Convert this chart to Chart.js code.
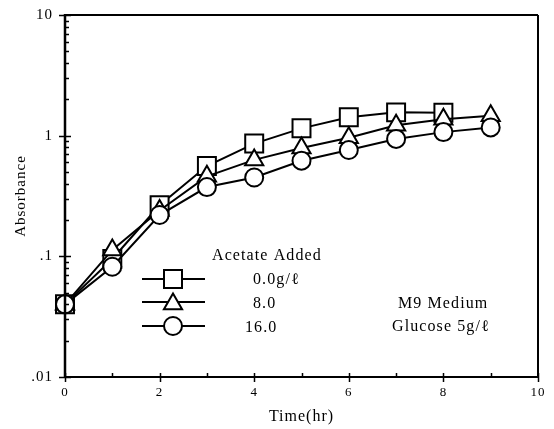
<!DOCTYPE html>
<html>
<head>
<meta charset="utf-8">
<script src="https://cdn.jsdelivr.net/npm/chart.js@4.4.1/dist/chart.umd.min.js"></script>
<style>
html,body{margin:0;padding:0;background:#fff;}
#wrap{width:554px;height:429px;}
</style>
</head>
<body>
<div id="wrap"><canvas id="c" width="554" height="429"></canvas></div>
<script>
// ---- data ----
const timeSq   = [0, 1, 2, 3, 4, 5, 6, 7, 8];
const absSq    = [0.04, 0.095, 0.265, 0.56, 0.86, 1.15, 1.42, 1.56, 1.55];
const timeTri  = [0, 1, 2, 3, 4, 5, 6, 7, 8, 9];
const absTri   = [0.04, 0.113, 0.24, 0.46, 0.63, 0.79, 0.96, 1.22, 1.37, 1.46];
const timeCirc = [0, 1, 2, 3, 4, 5, 6, 7, 8, 9];
const absCirc  = [0.04, 0.082, 0.22, 0.375, 0.45, 0.62, 0.76, 0.94, 1.07, 1.17];
const seriesLabels = ['0.0g/\u2113', '8.0', '16.0'];
const legendTitle = 'Acetate Added';
const noteLines = ['M9 Medium', 'Glucose 5g/\u2113'];
const yTickValues = [0.01, 0.1, 1, 10];
const yTickLabels = ['.01', '.1', '1', '10'];
const xTickValues = [0,1,2,3,4,5,6,7,8,9,10];

const SERIF = '"Liberation Serif", "Times New Roman", serif';

function pts(xs, ys){ return xs.map((x,i)=>({x:x, y:ys[i]})); }

function drawMarker(ctx, shape, x, y){
  ctx.save();
  ctx.fillStyle = '#fff';
  ctx.strokeStyle = '#000';
  ctx.lineWidth = 2;
  ctx.beginPath();
  if (shape === 'rect') {
    const s = 9;
    ctx.rect(x - s, y - s, 2*s, 2*s);
  } else if (shape === 'triangle') {
    const r = 10.5;
    for (let k=0;k<3;k++){
      const a = k*2*Math.PI/3;
      const px = x + Math.sin(a)*r, py = y - Math.cos(a)*r;
      if (k===0) ctx.moveTo(px,py); else ctx.lineTo(px,py);
    }
    ctx.closePath();
  } else {
    ctx.arc(x, y, 9, 0, Math.PI*2);
  }
  ctx.fill();
  ctx.stroke();
  ctx.restore();
}

const framePlugin = {
  id: 'frame',
  afterDraw(chart){
    const ctx = chart.ctx;
    const a = chart.chartArea;
    const xs = chart.scales.x, ys = chart.scales.y;
    ctx.save();
    ctx.strokeStyle = '#000';
    ctx.lineCap = 'butt';
    // frame
    ctx.lineWidth = 2.5;
    ctx.beginPath();
    ctx.moveTo(a.left, a.top - 1); ctx.lineTo(a.left, a.bottom + 1);
    ctx.stroke();
    ctx.lineWidth = 2;
    ctx.beginPath();
    ctx.moveTo(a.left, a.top); ctx.lineTo(a.right, a.top);
    ctx.moveTo(a.left, a.bottom); ctx.lineTo(a.right, a.bottom);
    ctx.moveTo(a.right, a.top); ctx.lineTo(a.right, a.bottom);
    ctx.stroke();
    // y ticks (log)
    ctx.lineWidth = 1.5;
    ctx.beginPath();
    for (let d = 0.01; d < 10.001; d *= 10) {
      for (let m = 1; m <= 9; m++) {
        const v = d * m;
        if (v > 10.0001) break;
        const py = Math.round(ys.getPixelForValue(v)) + 0.5;
        if (m === 1) { ctx.moveTo(a.left - 6, py); ctx.lineTo(a.left + 6, py); }
        else { ctx.moveTo(a.left, py); ctx.lineTo(a.left + 4, py); }
      }
    }
    // x ticks
    xTickValues.forEach(v => {
      const px = Math.round(xs.getPixelForValue(v)) + 0.5;
      if (v % 2 === 0) { ctx.moveTo(px, a.bottom + 5); ctx.lineTo(px, a.bottom - 4); }
      else { ctx.moveTo(px, a.bottom); ctx.lineTo(px, a.bottom - 4); }
    });
    ctx.stroke();

    // legend
    ctx.lineWidth = 2;
    const rows = [279, 302, 326];
    const shapes = ['rect', 'triangle', 'circle'];
    rows.forEach((ry, i) => {
      ctx.beginPath();
      ctx.moveTo(142, ry); ctx.lineTo(205, ry);
      ctx.stroke();
      drawMarker(ctx, shapes[i], 173, ry + (shapes[i]==='triangle'?2:0));
    });
    ctx.fillStyle = '#000';
    ctx.font = '16px ' + SERIF;
    ctx.letterSpacing = '1.1px';
    ctx.textBaseline = 'middle';
    ctx.textAlign = 'left';
    ctx.fillText(legendTitle, 212, 256);
    ctx.fillText(seriesLabels[0], 253, 280);
    ctx.fillText(seriesLabels[1], 253, 304);
    ctx.fillText(seriesLabels[2], 245, 328);
    ctx.fillText(noteLines[0], 398, 304);
    ctx.fillText(noteLines[1], 392, 327);
    ctx.restore();
  }
};

const lsPlugin = {
  id: 'ls',
  beforeDraw(chart){ chart.ctx.letterSpacing = '1px'; }
};

function ds(label, data, shape, radius, order){
  return {
    label: label,
    data: data,
    borderColor: '#000',
    borderWidth: 2,
    backgroundColor: '#fff',
    pointStyle: shape,
    pointRadius: radius,
    pointBorderWidth: 2,
    pointBackgroundColor: '#fff',
    pointBorderColor: '#000',
    tension: 0,
    fill: false,
    clip: false,
    order: order
  };
}

new Chart(document.getElementById('c'), {
  type: 'line',
  data: {
    datasets: [
      ds(seriesLabels[0], pts(timeSq, absSq), 'rect', 12.7, 3),
      ds(seriesLabels[1], pts(timeTri, absTri), 'triangle', 10.5, 2),
      ds(seriesLabels[2], pts(timeCirc, absCirc), 'circle', 9, 1)
    ]
  },
  options: {
    responsive: false,
    animation: false,
    events: [],
    layout: { padding: { top: 15, right: 16, left: 0, bottom: 0 } },
    plugins: { legend: { display: false }, tooltip: { enabled: false } },
    scales: {
      x: {
        type: 'linear',
        min: 0, max: 10,
        grid: { display: false, drawTicks: false },
        border: { display: false },
        afterBuildTicks(scale){ scale.ticks = xTickValues.map(v => ({value: v})); },
        afterFit(scale){ scale.height = 52; scale.paddingLeft = 0; scale.paddingRight = 0; },
        ticks: {
          padding: 8,
          maxRotation: 0,
          autoSkip: false,
          color: '#000',
          font: { family: SERIF, size: 13 },
          callback(v){ return (v % 2 === 0) ? String(v) : ''; }
        },
        title: {
          display: true, text: 'Time(hr)', color: '#000',
          font: { family: SERIF, size: 16 },
          padding: { top: 0, bottom: 3 }
        }
      },
      y: {
        type: 'logarithmic',
        min: 0.01, max: 10,
        grid: { display: false, drawTicks: false },
        border: { display: false },
        afterBuildTicks(scale){ scale.ticks = yTickValues.map(v => ({value: v})); },
        afterFit(scale){ scale.width = 65; scale.paddingTop = 0; scale.paddingBottom = 0; },
        ticks: {
          padding: 12,
          autoSkip: false,
          color: '#000',
          font: { family: SERIF, size: 15 },
          callback(v){ const i = yTickValues.findIndex(t => Math.abs(t - v) < v*1e-6); return i >= 0 ? yTickLabels[i] : ''; }
        },
        title: {
          display: true, text: 'Absorbance', color: '#000',
          font: { family: SERIF, size: 15 },
          padding: { top: 12, bottom: 0 }
        }
      }
    }
  },
  plugins: [lsPlugin, framePlugin]
});
</script>
</body>
</html>
